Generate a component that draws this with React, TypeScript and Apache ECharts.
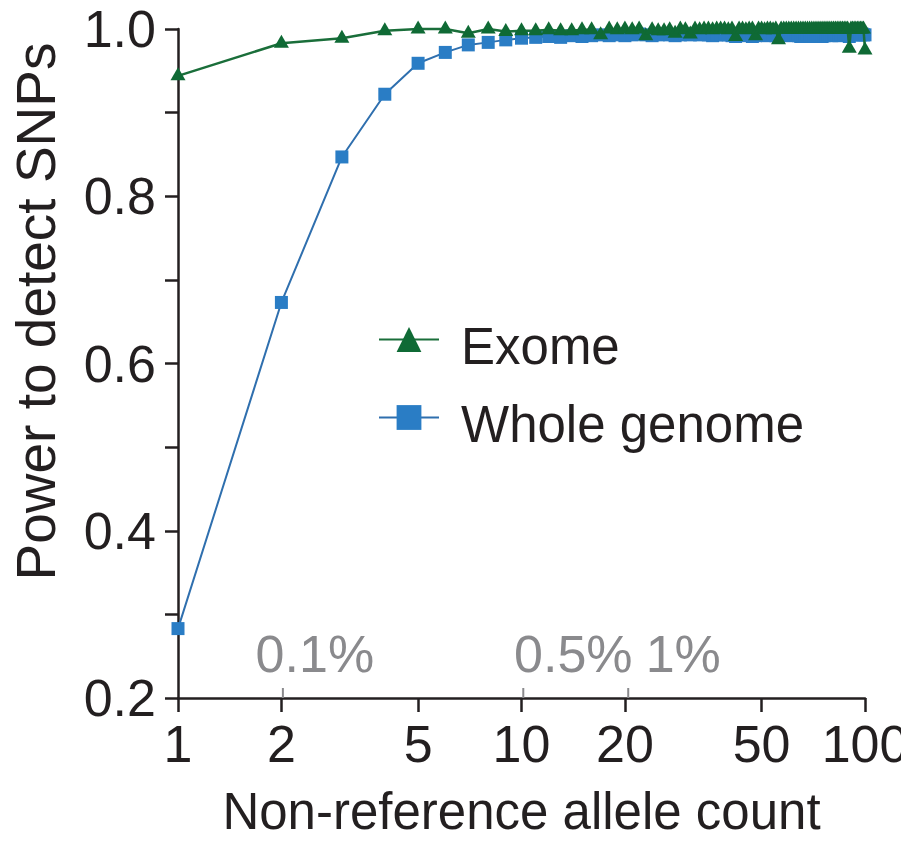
import React, { useEffect, useRef } from 'react';
import * as echarts from 'echarts';

// Non-reference allele counts (x)
const alleleCounts = [
  1, 2, 3, 4, 5, 6, 7, 8, 9, 10, 11, 12, 13, 14, 15, 16, 17, 18, 19, 20,
  21, 22, 23, 24, 25, 26, 27, 28, 29, 30, 31, 32, 33, 34, 35, 36, 37, 38, 39, 40,
  41, 42, 43, 44, 45, 46, 47, 48, 49, 50, 51, 52, 53, 54, 55, 56, 57, 58, 59, 60,
  61, 62, 63, 64, 65, 66, 67, 68, 69, 70, 71, 72, 73, 74, 75, 76, 77, 78, 79, 80,
  81, 82, 83, 84, 85, 86, 87, 88, 89, 90, 91, 92, 93, 94, 95, 96, 97, 98, 99, 100,
];

const exomePower = [
  0.944, 0.983, 0.989, 0.998, 1.0, 1.0, 0.995, 1.0, 0.997, 0.998,
  0.998, 0.999, 0.998, 0.998, 0.999, 0.999, 0.993, 1.0, 0.999, 1.0,
  0.999, 1.0, 0.992, 0.999, 0.998, 0.998, 0.999, 0.995, 1.0, 0.999,
  0.994, 1.0, 0.999, 1.0, 1.0, 0.999, 1.0, 1.0, 1.0, 0.999,
  1.0, 0.991, 1.0, 1.0, 0.999, 1.0, 1.0, 0.992, 1.0, 1.0,
  0.999, 1.0, 1.0, 0.999, 1.0, 0.987, 1.0, 1.0, 1.0, 1.0,
  1.0, 1.0, 1.0, 1.0, 1.0, 1.0, 1.0, 1.0, 1.0, 1.0,
  1.0, 1.0, 1.0, 1.0, 1.0, 1.0, 1.0, 1.0, 1.0, 1.0,
  1.0, 1.0, 1.0, 1.0, 1.0, 1.0, 1.0, 1.0, 1.0, 0.977,
  1.0, 1.0, 1.0, 1.0, 1.0, 1.0, 1.0, 1.0, 1.0, 0.975,
];

const wholeGenomePower = [
  0.283, 0.673, 0.847, 0.922, 0.959, 0.972, 0.981, 0.984, 0.987, 0.989,
  0.990, 0.991, 0.990, 0.992, 0.991, 0.992, 0.993, 0.992, 0.993, 0.992,
  0.993, 0.994, 0.993, 0.992, 0.993, 0.994, 0.993, 0.992, 0.993, 0.994,
  0.993, 0.994, 0.993, 0.994, 0.993, 0.992, 0.993, 0.994, 0.993, 0.993,
  0.992, 0.991, 0.993, 0.994, 0.992, 0.993, 0.991, 0.992, 0.993, 0.994,
  0.993, 0.992, 0.993, 0.994, 0.992, 0.991, 0.993, 0.994, 0.993, 0.992,
  0.993, 0.994, 0.993, 0.992, 0.991, 0.992, 0.993, 0.994, 0.992, 0.991,
  0.991, 0.992, 0.993, 0.992, 0.991, 0.992, 0.993, 0.994, 0.993, 0.992,
  0.993, 0.994, 0.993, 0.992, 0.993, 0.994, 0.993, 0.994, 0.993, 0.991,
  0.993, 0.994, 0.995, 0.994, 0.993, 0.994, 0.993, 0.994, 0.993, 0.993,
];

// x-axis tick values (allele count)
const xTickValues = [1, 2, 5, 10, 20, 50, 100];

// allele-frequency annotations
const freqLabels = ['0.1%', '0.5%', '1%'];
const freqCounts = [2.02, 10.12, 20.45];
const freqLabelShift = [32, 50, 55];

const DARK = '#231f20';
const GRAY = '#8a8a8d';
const GREEN_LINE = '#1a6e3a';
const GREEN_MARK = '#0f6a35';
const BLUE_LINE = '#2f6fae';
const BLUE_MARK = '#2a7dc5';
const FONT = '"Liberation Sans", Arial, Helvetica, sans-serif';

export default function App() {
  const ref = useRef<HTMLDivElement>(null);

  useEffect(() => {
    if (!ref.current) return;
    const chart = echarts.init(ref.current, null, { renderer: 'svg' });

    const option: any = {
      animation: false,
      backgroundColor: '#ffffff',
      textStyle: { fontFamily: FONT },
      grid: { left: 178, right: 44, top: 29, bottom: 144, outerBoundsMode: 'none', containLabel: false },
      legend: {
        orient: 'vertical',
        left: 373,
        top: 316,
        itemWidth: 60,
        itemHeight: 31,
        itemGap: 27,
        data: ['Exome', 'Whole genome'],
        formatter: '{t|{name}}',
        textStyle: {
          fontSize: 51,
          color: DARK,
          fontFamily: FONT,
          rich: {
            t: { fontSize: 51, color: DARK, fontFamily: FONT, padding: [14, 0, 0, 17] },
          },
        },
        selectedMode: false,
      },
      xAxis: [
        {
          type: 'log',
          logBase: 10,
          min: 1,
          max: 100,
          position: 'bottom',
          axisLine: { show: true, lineStyle: { color: DARK, width: 2.5 } },
          axisTick: { show: false },
          axisLabel: { show: false },
          splitLine: { show: false },
          minorTick: { show: false },
          name: 'Non-reference allele count',
          nameLocation: 'middle',
          nameGap: 88,
          nameTextStyle: { fontSize: 51, color: DARK, fontFamily: FONT },
        },
        {
          type: 'value',
          min: 0,
          max: 2,
          position: 'bottom',
          axisLine: { show: false },
          axisTick: {
            show: true,
            length: 14,
            lineStyle: { color: DARK, width: 2.5 },
            customValues: xTickValues.map((v) => Math.log10(v)),
          },
          axisLabel: {
            show: true,
            fontSize: 52,
            color: DARK,
            fontFamily: FONT,
            margin: 20,
            customValues: xTickValues.map((v) => Math.log10(v)),
            formatter: (v: number) => String(Math.round(Math.pow(10, v))),
          },
          splitLine: { show: false },
        },
      ],
      yAxis: {
        type: 'value',
        min: 0.2,
        max: 1.0,
        interval: 0.1,
        axisLine: { show: true, lineStyle: { color: DARK, width: 2.5 } },
        axisTick: { show: true, length: 13, lineStyle: { color: DARK, width: 2.5 } },
        axisLabel: {
          fontSize: 52,
          color: DARK,
          fontFamily: FONT,
          margin: 22,
          formatter: (v: number) => {
            const k = Math.round(v * 10);
            return k % 2 === 0 ? (k / 10).toFixed(1) : '';
          },
        },
        splitLine: { show: false },
        name: 'Power to detect SNPs',
        nameLocation: 'middle',
        nameGap: 115,
        nameTextStyle: { fontSize: 55, color: DARK, fontFamily: FONT, padding: [0, 0, 0, 104] },
      },
      series: [
        {
          name: 'Whole genome',
          type: 'line',
          xAxisIndex: 0,
          data: alleleCounts.map((c, i) => [c, wholeGenomePower[i]]),
          symbol: 'rect',
          symbolSize: 13,
          showSymbol: true,
          showAllSymbol: true,
          clip: false,
          itemStyle: { color: BLUE_MARK },
          lineStyle: { color: BLUE_LINE, width: 2 },
          z: 2,
        },
        {
          name: 'Exome',
          type: 'line',
          xAxisIndex: 0,
          data: alleleCounts.map((c, i) => [c, exomePower[i]]),
          symbol: 'triangle',
          symbolSize: [15, 13],
          symbolOffset: [0, -2],
          showSymbol: true,
          showAllSymbol: true,
          clip: false,
          itemStyle: { color: GREEN_MARK },
          lineStyle: { color: GREEN_LINE, width: 2.5 },
          z: 3,
        },
        {
          name: 'freq',
          type: 'custom',
          xAxisIndex: 0,
          clip: false,
          silent: true,
          data: freqCounts.map((c) => [c, 0.2]),
          renderItem: (params: any, api: any) => {
            const p = api.coord([api.value(0), api.value(1)]);
            const i = params.dataIndex;
            return {
              type: 'group',
              children: [
                {
                  type: 'line',
                  shape: { x1: p[0], y1: p[1], x2: p[0], y2: p[1] - 10 },
                  style: { stroke: GRAY, lineWidth: 2 },
                },
                {
                  type: 'text',
                  x: p[0] + freqLabelShift[i],
                  y: p[1] - 44,
                  style: {
                    text: freqLabels[i],
                    fill: GRAY,
                    fontSize: 52,
                    fontFamily: FONT,
                    align: 'center',
                    verticalAlign: 'middle',
                  },
                },
              ],
            };
          },
          z: 1,
        },
      ],
    };

    chart.setOption(option);
    return () => chart.dispose();
  }, []);

  return <div ref={ref} style={{ width: 909, height: 842, margin: -8 }} />;
}
